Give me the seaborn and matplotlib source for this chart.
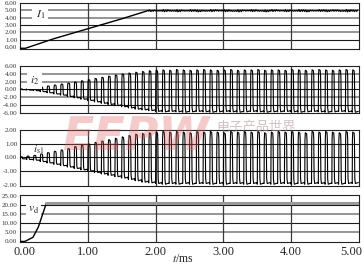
import numpy as np
import pandas as pd
import matplotlib
matplotlib.use("Agg")
import matplotlib.pyplot as plt
import matplotlib.transforms as mtransforms
import seaborn as sns

# ---------------- data ----------------
period_ms = 0.1
x_ticks = [0, 1, 2, 3, 4, 5]
x_tick_labels = ["0.00", "1.00", "2.00", "3.00", "4.00", "5.00"]

# Panel 1: I1 ramp and plateau (per switching cycle high / low from 1.9 ms)
I1_ramp_t = [0.0, 0.08, 0.5, 1.0, 1.5, 1.9]
I1_ramp_v = [-0.15, -0.15, 1.15, 2.5, 3.85, 5.0]
I1_plat_hi = [5.05, 5.0, 5.1, 5.02, 5.08, 5.0, 5.1, 5.05, 5.0, 5.1,
              5.05, 5.1, 5.0, 5.08, 5.05, 5.1, 5.0, 5.05, 5.1, 5.02,
              5.08, 5.0, 5.1, 5.05, 5.0, 5.1, 5.05, 5.08, 5.0, 5.1, 5.05]
I1_plat_lo = [4.85, 4.9, 4.82, 4.88, 4.8, 4.9, 4.85, 4.8, 4.88, 4.84,
              4.9, 4.82, 4.86, 4.8, 4.9, 4.84, 4.88, 4.8, 4.86, 4.9,
              4.82, 4.88, 4.84, 4.8, 4.9, 4.85, 4.82, 4.88, 4.86, 4.8, 4.85]

# Panel 2: i2 per-cycle high / low
i2_high = [0.1, 0.2, 0.35, 0.6, 0.85, 1.1, 1.35, 1.6, 1.9, 2.2,
           2.5, 2.8, 3.1, 3.4, 3.7, 3.95, 4.2, 4.4, 4.6, 4.8,
           4.9, 5.0, 4.9, 5.1, 5.0, 4.9, 5.0, 5.1, 5.0, 4.9,
           5.0, 5.1, 4.9, 5.0, 5.0, 5.1, 4.9, 5.0, 5.0, 4.9,
           5.1, 5.0, 4.9, 5.0, 5.1, 5.0, 4.9, 5.0, 5.1, 5.0]
i2_low = [-0.1, -0.2, -0.35, -0.6, -0.9, -1.2, -1.5, -1.85, -2.2, -2.55,
          -2.9, -3.25, -3.6, -3.9, -4.2, -4.5, -4.8, -5.1, -5.3, -5.5,
          -5.7, -5.8, -5.7, -5.8, -5.9, -5.8, -5.7, -5.8, -5.9, -5.8,
          -5.7, -5.8, -5.9, -5.8, -5.7, -5.8, -5.9, -5.8, -5.8, -5.7,
          -5.8, -5.9, -5.8, -5.7, -5.8, -5.9, -5.8, -5.7, -5.8, -5.9]

# Panel 3: is1 per-cycle high / low
is1_high = [0.05, 0.1, 0.15, 0.25, 0.35, 0.45, 0.55, 0.65, 0.8, 0.9,
            1.0, 1.1, 1.2, 1.3, 1.4, 1.5, 1.6, 1.7, 1.75, 1.8,
            1.85, 1.9, 1.85, 1.9, 1.85, 1.8, 1.9, 1.85, 1.9, 1.85,
            1.8, 1.9, 1.85, 1.9, 1.85, 1.9, 1.8, 1.85, 1.9, 1.85,
            1.9, 1.85, 1.8, 1.9, 1.85, 1.9, 1.85, 1.8, 1.9, 1.85]
is1_low = [-0.1, -0.15, -0.2, -0.3, -0.4, -0.5, -0.6, -0.7, -0.8, -0.9,
           -1.0, -1.1, -1.2, -1.3, -1.4, -1.5, -1.6, -1.7, -1.8, -1.85,
           -1.9, -1.95, -1.9, -1.95, -1.9, -1.95, -1.9, -1.9, -1.95, -1.9,
           -1.95, -1.9, -1.9, -1.95, -1.9, -1.95, -1.9, -1.95, -1.9, -1.9,
           -1.95, -1.9, -1.95, -1.9, -1.9, -1.95, -1.9, -1.95, -1.9, -1.9]

# Panel 4: vd
vd_t = [0.0, 0.07, 0.19, 0.27, 0.34, 0.39]
vd_v = [0.0, 0.0, 2.2, 7.8, 15.5, 21.0]
vd_level = 20.8

# ---------------- helpers ----------------
# phase positions and fraction of swing inside one switching period
phase = [0.00, 0.03, 0.08, 0.28, 0.33, 0.38, 0.46, 0.90]
swing = [0.00, 0.85, 1.00, 0.98, 0.85, 0.10, 0.00, 0.02]
# jitter shape for the I1 plateau (two spikes per period)
phase_j = [0.00, 0.15, 0.30, 0.50, 0.65, 0.80]
swing_j = [0.2, 1.0, 0.0, 0.8, 0.1, 0.9]


def wave_frame(highs, lows, t_start=0.0, ph=phase, sw=swing):
    ts, vs = [], []
    for k, (h, l) in enumerate(zip(highs, lows)):
        t0 = t_start + k * period_ms
        for p, f in zip(ph, sw):
            ts.append(t0 + p * period_ms)
            vs.append(l + f * (h - l))
    return pd.DataFrame({"t": ts, "v": vs})


sns.set_style("white")
plt.rcParams["font.family"] = ["Liberation Serif", "DejaVu Serif"]
plt.rcParams["mathtext.fontset"] = "stix"

W, H = 364, 264
fig = plt.figure(figsize=(W / 100, H / 100), dpi=100)


def add_ax(top_px, bot_px):
    return fig.add_axes([20 / W, 1 - bot_px / H, 339 / W, (bot_px - top_px) / H])


ax1 = add_ax(3, 49)
ax2 = add_ax(66, 113)
ax3 = add_ax(130, 186)
ax4 = add_ax(195, 242)

G = "#8c8c8c"   # light grid
K = "#1a1a1a"   # dark grid


def style(ax, ylim, yticks, grid):
    ax.set_xlim(0, 5)
    ax.set_ylim(*ylim)
    for y, c in grid.items():
        ax.axhline(y, color=c, lw=1.3 if c == G else 0.8, zorder=1)
    for x in [1, 2, 3, 4]:
        ax.axvline(x, color="#3a3a3a", lw=0.9, zorder=1)
    ax.set_yticks(yticks)
    ax.set_yticklabels([f"{v:.2f}" for v in yticks])
    ax.tick_params(axis="y", length=0, pad=2, labelsize=5, labelcolor="#333333")
    ax.set_xlabel("")
    ax.set_ylabel("")
    for s in ax.spines.values():
        s.set_color("#222222")
        s.set_linewidth(0.8)


# Panel 1
i1_df = pd.DataFrame({"t": I1_ramp_t, "v": I1_ramp_v})
plat = wave_frame(I1_plat_hi, I1_plat_lo, t_start=1.9, ph=phase_j, sw=swing_j)
sns.lineplot(data=i1_df, x="t", y="v", ax=ax1, color="k", lw=1.0,
             estimator=None, sort=False, zorder=3)
sns.lineplot(data=plat, x="t", y="v", ax=ax1, color="k", lw=0.9,
             estimator=None, sort=False, zorder=3)
style(ax1, (-0.25, 6.0), [0, 1, 2, 3, 4, 5, 6],
      {1: K, 2: G, 3: K, 4: G, 5: G})
ax1.text(0.3, 4.35, "$I_1$", fontsize=8.5, ha="center", va="center", zorder=4,
         bbox=dict(fc="white", ec="none", pad=2.5))

# Panel 2
sns.lineplot(data=wave_frame(i2_high, i2_low), x="t", y="v", ax=ax2,
             color="k", lw=0.8, estimator=None, sort=False, zorder=3)
style(ax2, (-6.1, 6.0), [-6, -4, -2, 0, 2, 4, 6],
      {4: G, 2: G, 0: K, -2: G, -4: K})
ax2.text(0.22, 2.3, "$i_2$", fontsize=8.5, ha="center", va="center", zorder=4,
         bbox=dict(fc="white", ec="none", pad=2.0))

# Panel 3
sns.lineplot(data=wave_frame(is1_high, is1_low), x="t", y="v", ax=ax3,
             color="k", lw=0.8, estimator=None, sort=False, zorder=3)
style(ax3, (-2.08, 2.0), [-2, -1, 0, 1, 2],
      {1: K, 0: K, -1: K})
ax3.text(0.27, 0.12, r"$i_{\mathrm{s1}}$", fontsize=8, ha="center",
         va="bottom", zorder=4)

# Panel 4
sns.lineplot(data=pd.DataFrame({"t": vd_t, "v": vd_v}), x="t", y="v", ax=ax4,
             color="k", lw=1.0, estimator=None, sort=False, zorder=3)
sns.lineplot(data=pd.DataFrame({"t": [vd_t[-1], 5.0], "v": [vd_level, vd_level]}),
             x="t", y="v", ax=ax4, color="#9a9a9a", lw=2.2,
             estimator=None, sort=False, zorder=3)
style(ax4, (-0.3, 25.3), [0, 5, 10, 15, 20, 25],
      {5: G, 10: K, 15: G, 20: K})
ax4.text(0.2, 17.5, r"$v_{\mathrm{d}}$", fontsize=8.5, ha="center",
         va="center", zorder=4, bbox=dict(fc="white", ec="none", pad=1.5))

for ax in (ax1, ax2, ax3):
    ax.set_xticks([])
ax4.set_xticks(x_ticks)
ax4.set_xticklabels(x_tick_labels)
ax4.tick_params(axis="x", length=0, pad=3, labelsize=9)
xt = ax4.get_xticklabels()
xt[0].set_transform(xt[0].get_transform() +
                    mtransforms.ScaledTranslation(5 / 100, 0, fig.dpi_scale_trans))
xt[-1].set_horizontalalignment("right")
xt[-1].set_transform(xt[-1].get_transform() +
                     mtransforms.ScaledTranslation(3 / 100, 0, fig.dpi_scale_trans))

fig.text(183 / W, 1 - 259 / H, "$t$/ms", fontsize=8.5, ha="center", va="center")

# watermark
fig.text(136 / W, 1 - 137 / H, "EEPW", fontsize=33, weight="bold",
         style="italic", color="#e06060", alpha=0.33, ha="center",
         va="center", family=["Liberation Sans Narrow", "DejaVu Sans"],
         zorder=10)
fig.text(256 / W, 1 - 127 / H, "电子产品世界", fontsize=9.5, color="#b09090",
         alpha=0.55, ha="center", va="center",
         family=["Noto Sans CJK SC", "DejaVu Sans"], zorder=10)

fig.savefig("out.png", dpi=100)
